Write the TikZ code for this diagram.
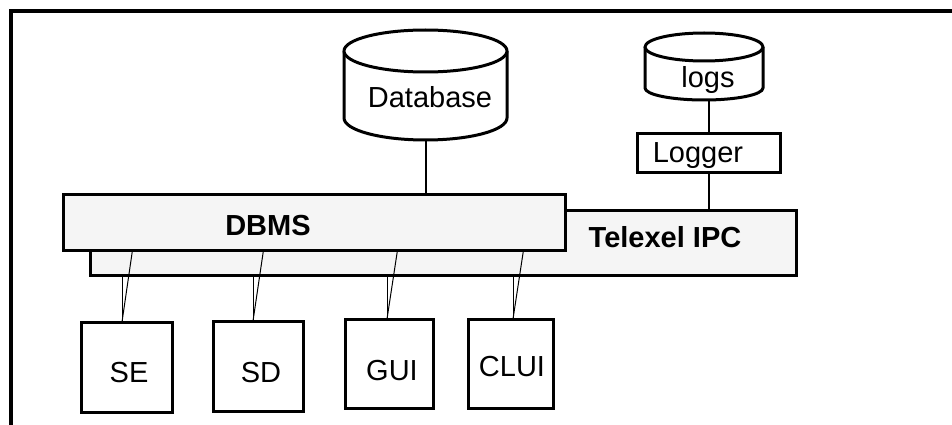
\documentclass[tikz,border=0pt]{standalone}
\usepackage{fontspec}
\setmainfont{Liberation Sans}
\definecolor{panel}{RGB}{245,245,245}
\begin{document}
\begin{tikzpicture}[x=1pt,y=-1pt,
  box/.style={draw, line width=3pt, inner sep=0pt, outer sep=0pt, anchor=north west},
  layer/.style={box, fill=panel},
  span/.style={inner sep=0pt, outer sep=0pt},
  txt/.style={inner sep=0pt, anchor=base, font=\fontsize{29}{31}\selectfont},
  btxt/.style={txt, font=\fontsize{29}{31}\selectfont\bfseries},
  link/.style={line width=2pt},
  tap/.style={line width=1pt},
  cyl/.style={line width=3pt, fill=white, line join=round}]
\useasboundingbox (0,0) rectangle (952,425);

% outer frame (open at the bottom and right)
\draw[line width=4pt, line join=miter] (11,425) -- (11,11.5) -- (952,11.5);

% storage cylinders
\draw[cyl] (344,51) -- (344,118) arc[start angle=180, end angle=0, x radius=81.5, y radius=22] -- (507,51);
\draw[cyl] (425.5,51) ellipse[x radius=81.5, y radius=21];
\node[span, minimum width=163pt, minimum height=110pt] (db) at (425.5,85) {};
\node[txt] (dblabel) at (430,108) {Database};

\draw[cyl] (645,47) -- (645,88) arc[start angle=180, end angle=0, x radius=59, y radius=12] -- (763,47);
\draw[cyl] (704,47) ellipse[x radius=59, y radius=14];
\node[span, minimum width=118pt, minimum height=67pt] (logs) at (704,66.5) {};
\node[txt] (logslabel) at (708,88) {logs};

% logger process
\node[box, minimum width=143pt, minimum height=39pt] (logger) at (637,133) {};
\node[txt] (loggerlabel) at (698,162) {Logger};

% layers
\node[layer, minimum width=706pt, minimum height=65pt] (ipc) at (90,210) {};
\node[btxt] (ipclabel) at (665,247) {Telexel IPC};
\node[layer, minimum width=502pt, minimum height=56pt] (dbms) at (63,194) {};
\node[btxt] (dbmslabel) at (268,235) {DBMS};

% client processes
\node[box, minimum width=91pt, minimum height=90pt] (se) at (81,322) {};
\node[txt] (selabel) at (129,382) {SE};
\node[box, minimum width=90pt, minimum height=90pt] (sd) at (213,321) {};
\node[txt] (sdlabel) at (261,382) {SD};
\node[box, minimum width=88pt, minimum height=89pt] (gui) at (345,319) {};
\node[txt] (guilabel) at (392,380) {GUI};
\node[box, minimum width=85pt, minimum height=89pt] (clui) at (468,319) {};
\node[txt] (cluilabel) at (512,376) {CLUI};

% storage links
\draw[link] (db.south) -- (db.south |- dbms.north);
\draw[link] (logger.north |- logs.south) -- (logger.north);
\draw[link] (logger.south) -- (logger.south |- ipc.north);

% client attachment points
\coordinate (seTop) at (122,322);
\coordinate (sdTop) at (253,321);
\coordinate (guiTop) at (387,319);
\coordinate (cluiTop) at (513,319);

% each client taps both the IPC layer and the DBMS layer
\foreach \c in {seTop,sdTop,guiTop,cluiTop}{
  \draw[tap] (\c |- ipc.south) -- (\c);
  \draw[tap] ([xshift=10.5pt]\c |- dbms.south) -- (\c);
}
\end{tikzpicture}
\end{document}
